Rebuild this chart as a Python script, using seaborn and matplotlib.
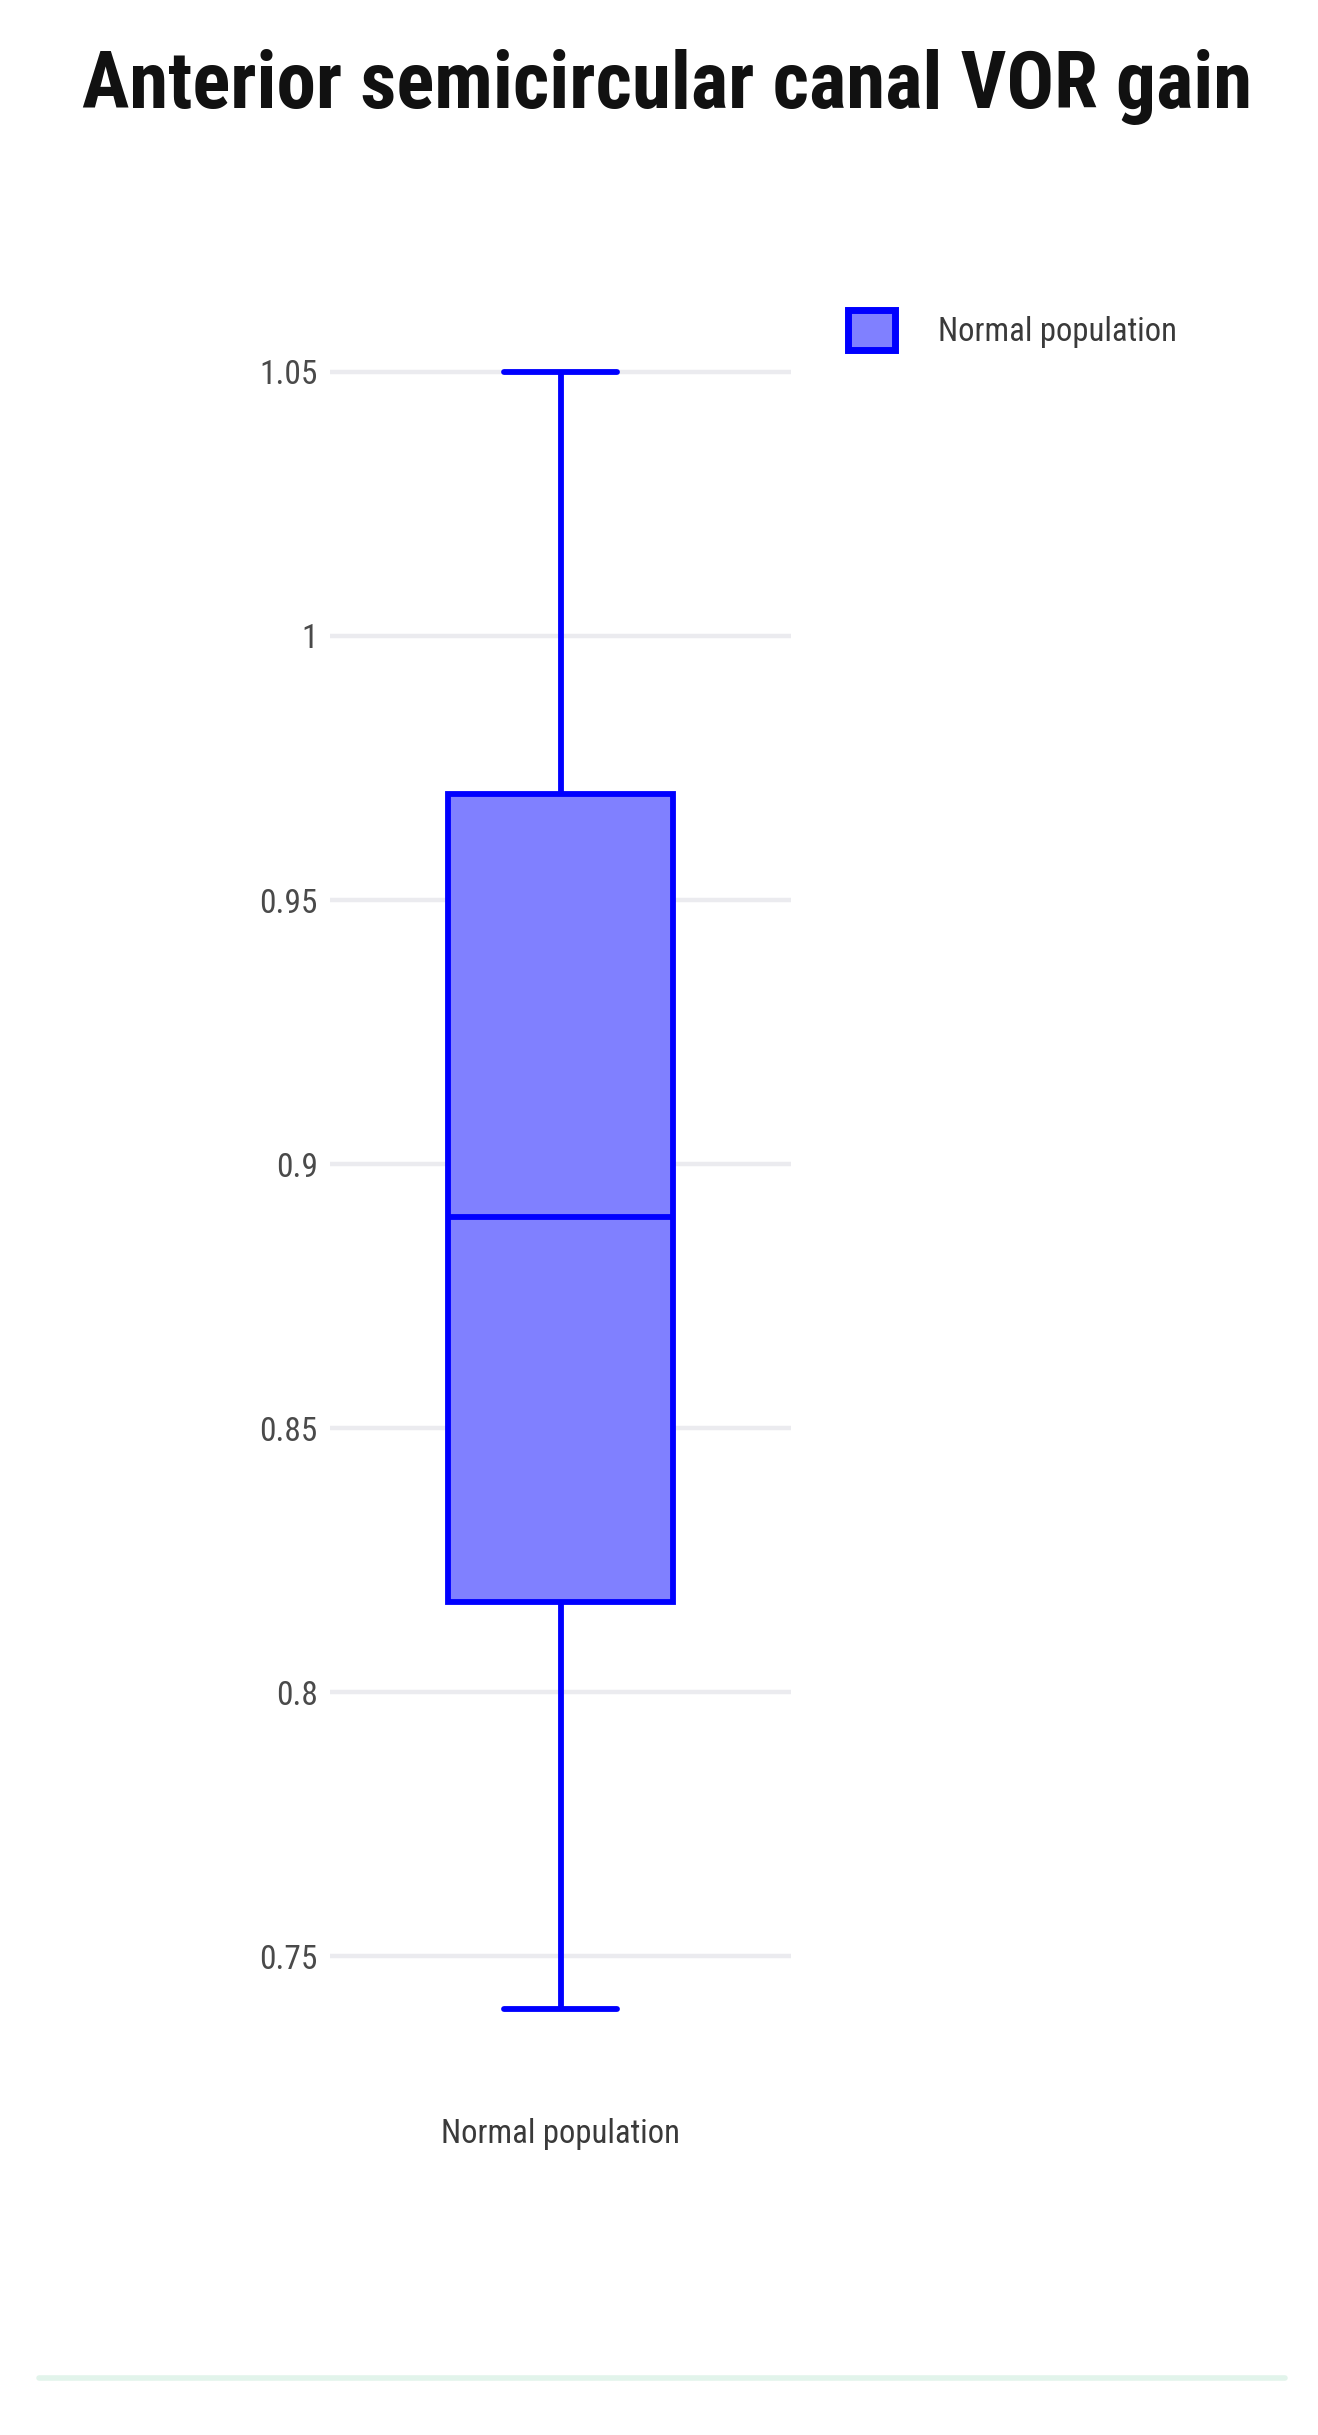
import pandas as pd
import seaborn as sns
import matplotlib.pyplot as plt
from matplotlib import font_manager
from matplotlib.lines import Line2D

# five-number summary (min, q1, median, q3, max)
groups = ["Normal population"] * 5
gain = [0.74, 0.817, 0.89, 0.97, 1.05]
yticks = [0.75, 0.8, 0.85, 0.9, 0.95, 1.0, 1.05]
ytick_labels = ["0.75", "0.8", "0.85", "0.9", "0.95", "1", "1.05"]

df = pd.DataFrame({"group": groups, "gain": gain})

sns.set_style("white")
names = {f.name for f in font_manager.fontManager.ttflist}
narrow = next((n for n in ["Roboto Condensed", "Liberation Sans Narrow", "Open Sans Condensed"]
               if n in names), "DejaVu Sans")
plt.rcParams['font.family'] = [narrow, 'DejaVu Sans']

W, H = 1318, 2435
fig = plt.figure(figsize=(W / 100, H / 100), dpi=100)
ax = fig.add_axes([330 / W, (H - 2062) / H, 461 / W, (2062 - 319) / H])

sns.boxplot(data=df, x="group", y="gain", hue="group",
            palette={"Normal population": "#8080FF"}, saturation=1,
            linecolor="#0000FF", linewidth=4.2, width=0.49,
            whis=1.5, legend=True, ax=ax)

ax.set_xlim(-0.5, 0.5)
ax.set_ylim(0.73, 1.06)
ax.set_yticks(yticks)
ax.set_yticklabels(ytick_labels)
ax.set_xlabel("")
ax.set_ylabel("")
ax.set_axisbelow(True)
ax.yaxis.grid(True, color="#EBEBEF", linewidth=3.2)
ax.xaxis.grid(False)
for s in ax.spines.values():
    s.set_visible(False)
ax.tick_params(axis="y", length=0, pad=9, labelsize=24, labelcolor="#4a4a4a")
ax.tick_params(axis="x", length=0, pad=40, labelsize=23.5, labelcolor="#3a3a3a")

leg = ax.get_legend()
handles = list(leg.legend_handles)
labels = [t.get_text() for t in leg.get_texts()]
leg.remove()
for h in handles:
    h.set_linewidth(5)
fig.legend(handles, labels, loc="upper left",
           bbox_to_anchor=(848 / W, 1 - 310 / H), frameon=False,
           borderpad=0, borderaxespad=0, fontsize=23.5,
           handlelength=1.45, handleheight=1.5, handletextpad=1.3,
           labelcolor="#3a3a3a")

fig.text(667 / W, 1 - 108 / H, "Anterior semicircular canal VOR gain",
         ha="center", va="baseline", fontsize=57, fontweight="bold", color="#111111")

fig.add_artist(Line2D([39 / W, 1285 / W], [1 - 2378 / H] * 2,
                      color="#E2F4EB", linewidth=4, transform=fig.transFigure))

fig.savefig("out.png", dpi=100)
